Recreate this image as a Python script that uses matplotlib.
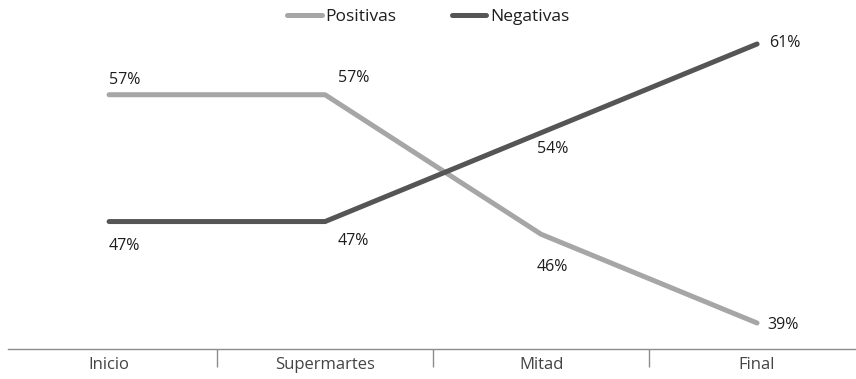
import matplotlib.pyplot as plt

plt.rcParams['font.family'] = ['Open Sans', 'DejaVu Sans']

# percentages per stage
etapas = ["Inicio", "Supermartes", "Mitad", "Final"]
positivas = [57, 57, 46, 39]
negativas = [47, 47, 54, 61]

color_pos = "#a6a6a6"
color_neg = "#555555"
color_txt = "#1e1e1e"

# label offsets in pixels (dx, dy) from each point
off_pos = [(0, 15), (13, 17), (-4, -33), (10, -2)]
off_neg = [(0, -24), (13, -19), (-4, -16), (12, 1)]

fig = plt.figure(figsize=(8.56, 3.79), dpi=100)
ax = fig.add_axes([0, 30 / 379, 1, 349 / 379])

x = range(len(etapas))
ax.plot(x, positivas, color=color_pos, lw=3.6, solid_capstyle="round",
        solid_joinstyle="round", label="Positivas")
ax.plot(x, negativas, color=color_neg, lw=3.6, solid_capstyle="round",
        solid_joinstyle="round", label="Negativas")

for serie, offs in ((positivas, off_pos), (negativas, off_neg)):
    for i, v in enumerate(serie):
        ax.annotate(f"{v}%", (i, v), xytext=offs[i], textcoords="offset pixels",
                    ha="left", va="center", fontsize=11.5, color=color_txt)

ax.set_xlim(-0.505, 3.458)
ax.set_ylim(36.95, 64.47)

for s in ("top", "right", "left"):
    ax.spines[s].set_visible(False)
ax.spines["bottom"].set_color("#8c8c8c")
ax.spines["bottom"].set_linewidth(1)
ax.spines["bottom"].set_bounds(-0.47, 3.458)

ax.set_yticks([])
ax.set_xticks(list(x))
ax.set_xticklabels(etapas, fontsize=12, color="#444444")
ax.set_xticks([0.5, 1.5, 2.5], minor=True)
ax.tick_params(axis="x", which="major", length=0, pad=6)
ax.tick_params(axis="x", which="minor", length=13, width=1, color="#8c8c8c",
               direction="out")

fig.legend(loc="center", bbox_to_anchor=(428 / 856, 1 - 17 / 379), ncol=2,
           frameon=False, fontsize=12.5, handlelength=2.0, handletextpad=0.2,
           columnspacing=3.2, labelcolor=color_txt)

fig.savefig("out.png", dpi=100)
